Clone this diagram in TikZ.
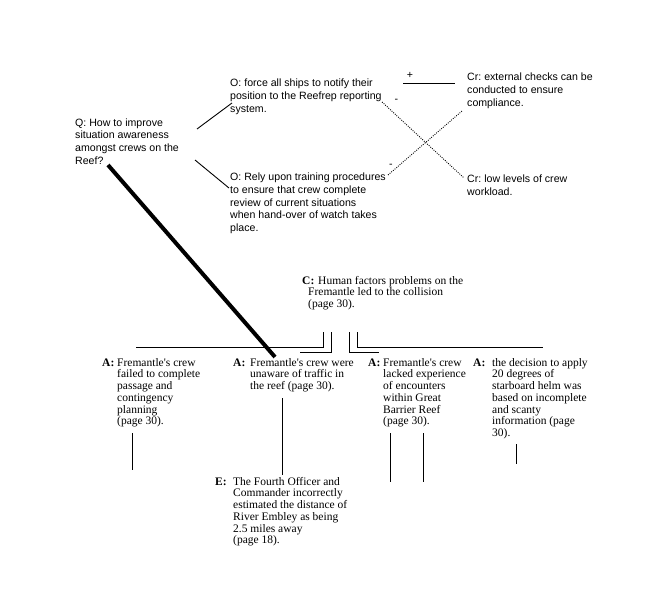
\documentclass[tikz,border=0pt]{standalone}
\usepackage{fontspec}
\setmainfont{Liberation Serif}
\newfontfamily\sansf{Liberation Sans}
\newcommand\mystrut{\vrule height 9pt depth 0pt width 0pt}
\newcommand\q{\textquotesingle}
\frenchspacing
\begin{document}
\frenchspacing
\begin{tikzpicture}[x=1pt,y=-1pt,
  sanstxt/.style={anchor=north west, inner sep=0pt, align=left, font=\sansf\fontsize{10.6}{12.7}\selectfont},
  seriftxt/.style={anchor=north west, inner sep=0pt, align=left, font=\fontsize{11.5}{11.7}\selectfont},
  lab/.style={anchor=base west, inner sep=0pt, font=\bfseries\fontsize{11.5}{11.7}\selectfont},
  sign/.style={inner sep=0pt, font=\sansf\fontsize{10.6}{12.7}\selectfont},
  thinline/.style={line width=0.9pt},
  dotline/.style={line width=0.9pt, dash pattern=on 0.9pt off 1.3pt},
  boldline/.style={line width=4pt}]
\useasboundingbox (0,0) rectangle (659,604);

% question, options, criteria
\node[sanstxt] (q) at (75,117) {\mystrut Q: How to improve\\situation awareness\\amongst crews on the\\Reef?};
\node[sanstxt] (o1) at (230,77.5) {\mystrut O: force all ships to notify their\\position to the Reefrep reporting\\system.};
\node[sanstxt] (o2) at (230,171.7) {\mystrut O: Rely upon training procedures\\to ensure that crew complete\\review of current situations\\when hand-over of watch takes\\place.};
\node[sanstxt] (cr1) at (467,71.7) {\mystrut Cr: external checks can be\\conducted to ensure\\compliance.};
\node[sanstxt] (cr2) at (467,173.3) {\mystrut Cr: low levels of crew\\workload.};
\node[sign] (plus) at (410,75.5) {+};
\node[sign] (m1) at (396.5,100.7) {-};
\node[sign] (m2) at (391,166) {-};

% claim
\node[lab] (cl) at (302,284) {C:};
\node[seriftxt] (c) at (308,275) {\mystrut\hspace*{10pt}Human factors problems on the\\Fremantle led to the collision\\(page 30).};

% arguments
\node[lab] (a1l) at (102,366) {A:};
\node[seriftxt] (a1) at (117,357) {\mystrut Fremantle\q s crew\\failed to complete\\passage and\\contingency\\planning\\(page 30).};
\node[lab] (a2l) at (233,366) {A:};
\node[seriftxt] (a2) at (250,357) {\mystrut Fremantle\q s crew were\\unaware of traffic in\\the reef (page 30).};
\node[lab] (a3l) at (368,366) {A:};
\node[seriftxt] (a3) at (383,357) {\mystrut Fremantle\q s crew\\lacked experience\\of encounters\\within Great\\Barrier Reef\\(page 30).};
\node[lab] (a4l) at (473,366) {A:};
\node[seriftxt] (a4) at (492,357) {\mystrut the decision to apply\\20 degrees of\\starboard helm was\\based on incomplete\\and scanty\\information (page\\30).};
\node[lab] (el) at (215,485) {E:};
\node[seriftxt] (e) at (233,476) {\mystrut The Fourth Officer and\\Commander incorrectly\\estimated the distance of\\River Embley as being\\2.5 miles away\\(page 18).};

% connector end points
\coordinate (qo1a) at (197,129); \coordinate (qo1b) at (232,103);
\coordinate (qo2a) at (195,160); \coordinate (qo2b) at (229,188);
\coordinate (pla) at (403,83); \coordinate (plb) at (455,83);
\coordinate (d1a) at (382,102); \coordinate (d1b) at (464,178);
\coordinate (d2a) at (388,175); \coordinate (d2b) at (462,111);
\coordinate (bqa) at (108,165); \coordinate (bqb) at (275,357);
\coordinate (c1a) at (323,332); \coordinate (c1b) at (136,347);
\coordinate (c2a) at (331,332); \coordinate (c2b) at (300,352);
\coordinate (c3a) at (349,332); \coordinate (c3b) at (379,352);
\coordinate (c4a) at (357,332); \coordinate (c4b) at (543,347);
\coordinate (v1a) at (132,433); \coordinate (v1b) at (132,470);
\coordinate (v2a) at (282,398); \coordinate (v2b) at (282,475);
\coordinate (v3a) at (390,433); \coordinate (v3b) at (390,482);
\coordinate (v4a) at (423,433); \coordinate (v4b) at (423,482);
\coordinate (v5a) at (516,444); \coordinate (v5b) at (516,464);

\draw[thinline] (qo1a) -- (qo1b);
\draw[thinline] (qo2a) -- (qo2b);
\draw[thinline] (pla) -- (plb);
\draw[dotline] (d1a) -- (d1b);
\draw[dotline] (d2a) -- (d2b);
\draw[boldline] (bqa) -- (bqb);
\draw[thinline] (c1a) |- (c1b);
\draw[thinline] (c2a) |- (c2b);
\draw[thinline] (c3a) |- (c3b);
\draw[thinline] (c4a) |- (c4b);
\draw[thinline] (v1a) -- (v1b);
\draw[thinline] (v2a) -- (v2b);
\draw[thinline] (v3a) -- (v3b);
\draw[thinline] (v4a) -- (v4b);
\draw[thinline] (v5a) -- (v5b);
\end{tikzpicture}
\end{document}
